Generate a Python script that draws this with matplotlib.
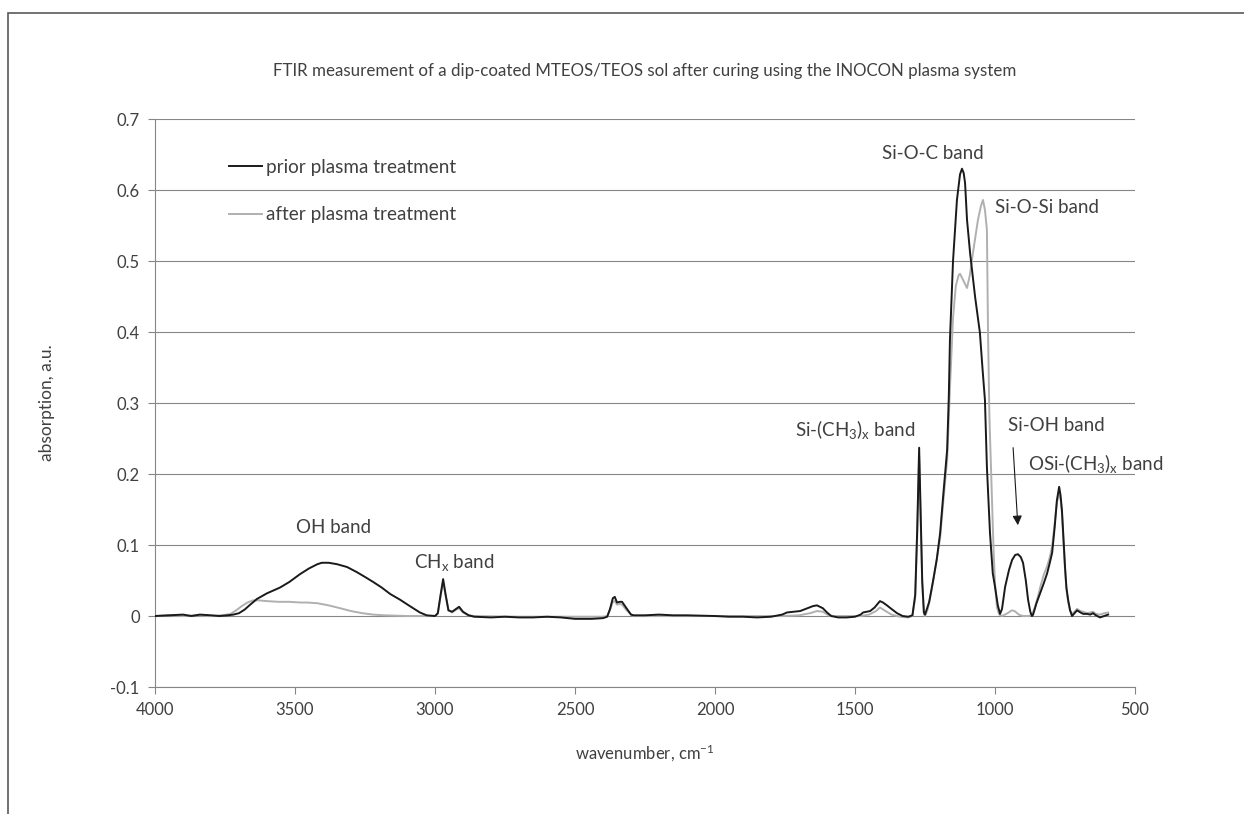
import matplotlib
matplotlib.use("Agg")
import matplotlib.pyplot as plt
from matplotlib.patches import Rectangle

plt.rcParams["font.family"] = ["Lato", "DejaVu Sans"]
plt.rcParams["mathtext.fontset"] = "custom"
plt.rcParams["mathtext.rm"] = "Lato"
plt.rcParams["mathtext.it"] = "Lato"

# FTIR spectrum before plasma curing (wavenumber in cm-1, absorption in a.u.)
prior_wn = [
    4000, 3950, 3900, 3870, 3840, 3800, 3770, 3740, 3720, 3700, 3680, 3660,
    3636, 3600, 3554, 3520, 3482, 3450, 3420, 3404, 3380, 3350, 3314, 3280,
    3250, 3221, 3190, 3160, 3125, 3090, 3054, 3030, 3000, 2990, 2980, 2971,
    2962, 2952, 2939, 2925, 2914, 2900, 2880, 2860, 2800, 2750, 2700, 2650,
    2600, 2550, 2500, 2440, 2400, 2385, 2375, 2365, 2358, 2350, 2340, 2332,
    2318, 2300, 2290, 2250, 2200, 2150, 2100, 2000, 1950, 1900, 1850, 1800,
    1760, 1743, 1720, 1696, 1670, 1650, 1636, 1615, 1600, 1585, 1560, 1530,
    1500, 1480, 1471, 1446, 1430, 1411, 1400, 1386, 1370, 1350, 1330, 1310,
    1295, 1285, 1278, 1271, 1266, 1260, 1254, 1250, 1235, 1221, 1208, 1196,
    1185, 1171, 1165, 1161, 1150, 1136, 1125, 1118, 1112, 1107, 1100, 1089,
    1071, 1054, 1045, 1036, 1029, 1018, 1008, 1000, 990, 982, 975, 964,
    950, 939, 928, 918, 908, 900, 890, 882, 874, 868, 864, 852,
    839, 826, 814, 805, 796, 787, 779, 771, 766, 761, 755, 750,
    745, 739, 732, 725, 716, 707, 695, 685, 671, 660, 650, 640,
    625, 610, 596,
]
prior_abs = [
    0.000, 0.001, 0.002, 0.000, 0.002, 0.001, 0.000, 0.001, 0.002, 0.004, 0.009, 0.016,
    0.024, 0.032, 0.040, 0.048, 0.059, 0.067, 0.073, 0.075, 0.075, 0.073, 0.069, 0.062,
    0.055, 0.048, 0.040, 0.031, 0.023, 0.014, 0.005, 0.001, 0.000, 0.004, 0.030, 0.052,
    0.030, 0.008, 0.006, 0.010, 0.013, 0.006, 0.001, -0.001, -0.002, -0.001, -0.002, -0.002,
    -0.001, -0.002, -0.004, -0.004, -0.003, -0.001, 0.010, 0.025, 0.027, 0.019, 0.020, 0.020,
    0.012, 0.002, 0.001, 0.001, 0.002, 0.001, 0.001, 0.000, -0.001, -0.001, -0.002, -0.001,
    0.002, 0.005, 0.006, 0.007, 0.011, 0.014, 0.015, 0.011, 0.005, 0.000, -0.002, -0.002,
    -0.001, 0.002, 0.005, 0.007, 0.012, 0.021, 0.019, 0.015, 0.010, 0.004, 0.000, -0.001,
    0.001, 0.030, 0.120, 0.237, 0.150, 0.050, 0.005, 0.002, 0.020, 0.050, 0.080, 0.117,
    0.170, 0.234, 0.310, 0.389, 0.500, 0.586, 0.622, 0.630, 0.624, 0.610, 0.558, 0.511,
    0.449, 0.399, 0.350, 0.304, 0.210, 0.117, 0.060, 0.041, 0.015, 0.003, 0.010, 0.041,
    0.065, 0.079, 0.086, 0.087, 0.083, 0.075, 0.050, 0.023, 0.006, 0.000, 0.002, 0.018,
    0.032, 0.046, 0.060, 0.074, 0.089, 0.125, 0.163, 0.182, 0.170, 0.149, 0.105, 0.069,
    0.040, 0.023, 0.008, 0.000, 0.004, 0.008, 0.005, 0.003, 0.003, 0.002, 0.004, 0.001,
    -0.002, 0.000, 0.002,
]

# FTIR spectrum after plasma curing
after_wn = [
    4000, 3950, 3900, 3850, 3800, 3760, 3730, 3710, 3690, 3670, 3650, 3630,
    3600, 3560, 3520, 3480, 3457, 3420, 3380, 3339, 3300, 3260, 3221, 3180,
    3100, 3000, 2990, 2980, 2971, 2962, 2952, 2939, 2925, 2914, 2900, 2880,
    2860, 2700, 2500, 2400, 2385, 2375, 2365, 2358, 2350, 2340, 2332, 2318,
    2300, 2290, 2100, 1900, 1760, 1700, 1660, 1636, 1615, 1595, 1580, 1480,
    1450, 1425, 1411, 1395, 1370, 1340, 1310, 1295, 1285, 1278, 1271, 1266,
    1260, 1254, 1250, 1240, 1225, 1210, 1196, 1185, 1171, 1160, 1150, 1140,
    1130, 1125, 1115, 1100, 1090, 1079, 1061, 1050, 1043, 1036, 1029, 1025,
    1020, 1011, 1005, 1000, 993, 985, 975, 955, 940, 930, 915, 900,
    880, 868, 857, 845, 839, 826, 814, 805, 796, 787, 779, 771,
    766, 761, 755, 750, 745, 739, 732, 725, 716, 707, 695, 685,
    671, 660, 650, 640, 625, 610, 596,
]
after_abs = [
    0.000, 0.001, 0.000, 0.001, 0.000, 0.001, 0.003, 0.008, 0.014, 0.019, 0.022, 0.022,
    0.021, 0.020, 0.020, 0.019, 0.019, 0.018, 0.015, 0.011, 0.007, 0.004, 0.002, 0.001,
    0.000, 0.000, 0.003, 0.028, 0.048, 0.028, 0.008, 0.005, 0.009, 0.011, 0.005, 0.001,
    0.000, -0.001, -0.001, -0.001, 0.000, 0.008, 0.020, 0.021, 0.016, 0.017, 0.016, 0.009,
    0.002, 0.000, 0.000, 0.000, 0.000, 0.001, 0.004, 0.007, 0.006, 0.001, 0.000, 0.000,
    0.002, 0.007, 0.012, 0.008, 0.002, -0.001, -0.002, 0.000, 0.025, 0.110, 0.225, 0.140,
    0.045, 0.003, 0.000, 0.010, 0.040, 0.075, 0.110, 0.160, 0.220, 0.330, 0.420, 0.465,
    0.480, 0.482, 0.474, 0.462, 0.480, 0.511, 0.558, 0.578, 0.586, 0.572, 0.544, 0.400,
    0.280, 0.163, 0.090, 0.046, 0.012, 0.002, 0.000, 0.004, 0.008, 0.007, 0.002, 0.000,
    0.000, 0.002, 0.013, 0.030, 0.040, 0.058, 0.070, 0.082, 0.098, 0.130, 0.160, 0.172,
    0.165, 0.145, 0.100, 0.065, 0.038, 0.020, 0.008, 0.003, 0.006, 0.010, 0.007, 0.006,
    0.004, 0.005, 0.006, 0.003, 0.002, 0.004, 0.005,
]

y_ticks = [-0.1, 0, 0.1, 0.2, 0.3, 0.4, 0.5, 0.6, 0.7]
x_ticks = [4000, 3500, 3000, 2500, 2000, 1500, 1000, 500]

axis_grey = "#868686"
text_col = "#404040"

fig = plt.figure(figsize=(12.44, 8.14), dpi=100)
ax = fig.add_axes([0.1246, 0.156, 0.7878, 0.6978])

ax.plot(prior_wn, prior_abs, color="#1a1a1a", lw=1.4, label="prior plasma treatment", zorder=4)
ax.plot(after_wn, after_abs, color="#b0b0b0", lw=1.4, label="after plasma treatment", zorder=3)

ax.set_xlim(4000, 500)
ax.set_ylim(-0.1, 0.7)
ax.set_xticks(x_ticks)
ax.set_yticks(y_ticks)
ax.set_yticklabels([f"{v:g}" for v in y_ticks])
ax.tick_params(axis="both", direction="out", length=5, width=0.8, color=axis_grey,
               labelsize=12, labelcolor=text_col, pad=6)
ax.yaxis.grid(True, color=axis_grey, lw=0.8)
ax.set_axisbelow(True)
for side in ("top", "right"):
    ax.spines[side].set_visible(False)
for side in ("left", "bottom"):
    ax.spines[side].set_color(axis_grey)
    ax.spines[side].set_linewidth(0.8)

ax.set_title("FTIR measurement of a dip-coated MTEOS/TEOS sol after curing using the INOCON plasma system",
             fontsize=12.2, color=text_col, pad=31)
ax.set_xlabel(r"wavenumber, cm$^{-1}$", fontsize=12, color=text_col, labelpad=18)
ax.set_ylabel("absorption, a.u.", fontsize=12.5, color=text_col, labelpad=40)

ax.legend(loc="upper left", bbox_to_anchor=(0.0755, 0.93), frameon=False, fontsize=13.6,
          handlelength=1.75, handletextpad=0.2, labelspacing=1.62, borderpad=0,
          borderaxespad=0, labelcolor=text_col)

note = dict(fontsize=13.5, color=text_col)
ax.text(1221, 0.652, "Si-O-C band", ha="center", va="center", **note)
ax.text(1000, 0.575, "Si-O-Si band", ha="left", va="center", **note)
ax.text(1286, 0.262, r"Si-(CH$_3$)$_\mathrm{x}$ band", ha="right", va="center", **note)
ax.text(954, 0.269, "Si-OH band", ha="left", va="center", **note)
ax.text(882, 0.215, r"OSi-(CH$_3$)$_\mathrm{x}$ band", ha="left", va="center", **note)
ax.text(3364, 0.125, "OH band", ha="center", va="center", **note)
ax.text(3075, 0.076, r"CH$_\mathrm{x}$ band", ha="left", va="center", **note)
ax.annotate("", xy=(918, 0.124), xytext=(936, 0.241),
            arrowprops=dict(arrowstyle="-|>", color="#1a1a1a", lw=0.8, mutation_scale=14))

# outer chart frame
fig.patches.append(Rectangle((8 / 1244, -0.2), 2, 1.2 - 13 / 814, transform=fig.transFigure,
                             fill=False, edgecolor="#595959", lw=1.2))

fig.savefig("out.png", dpi=100)
